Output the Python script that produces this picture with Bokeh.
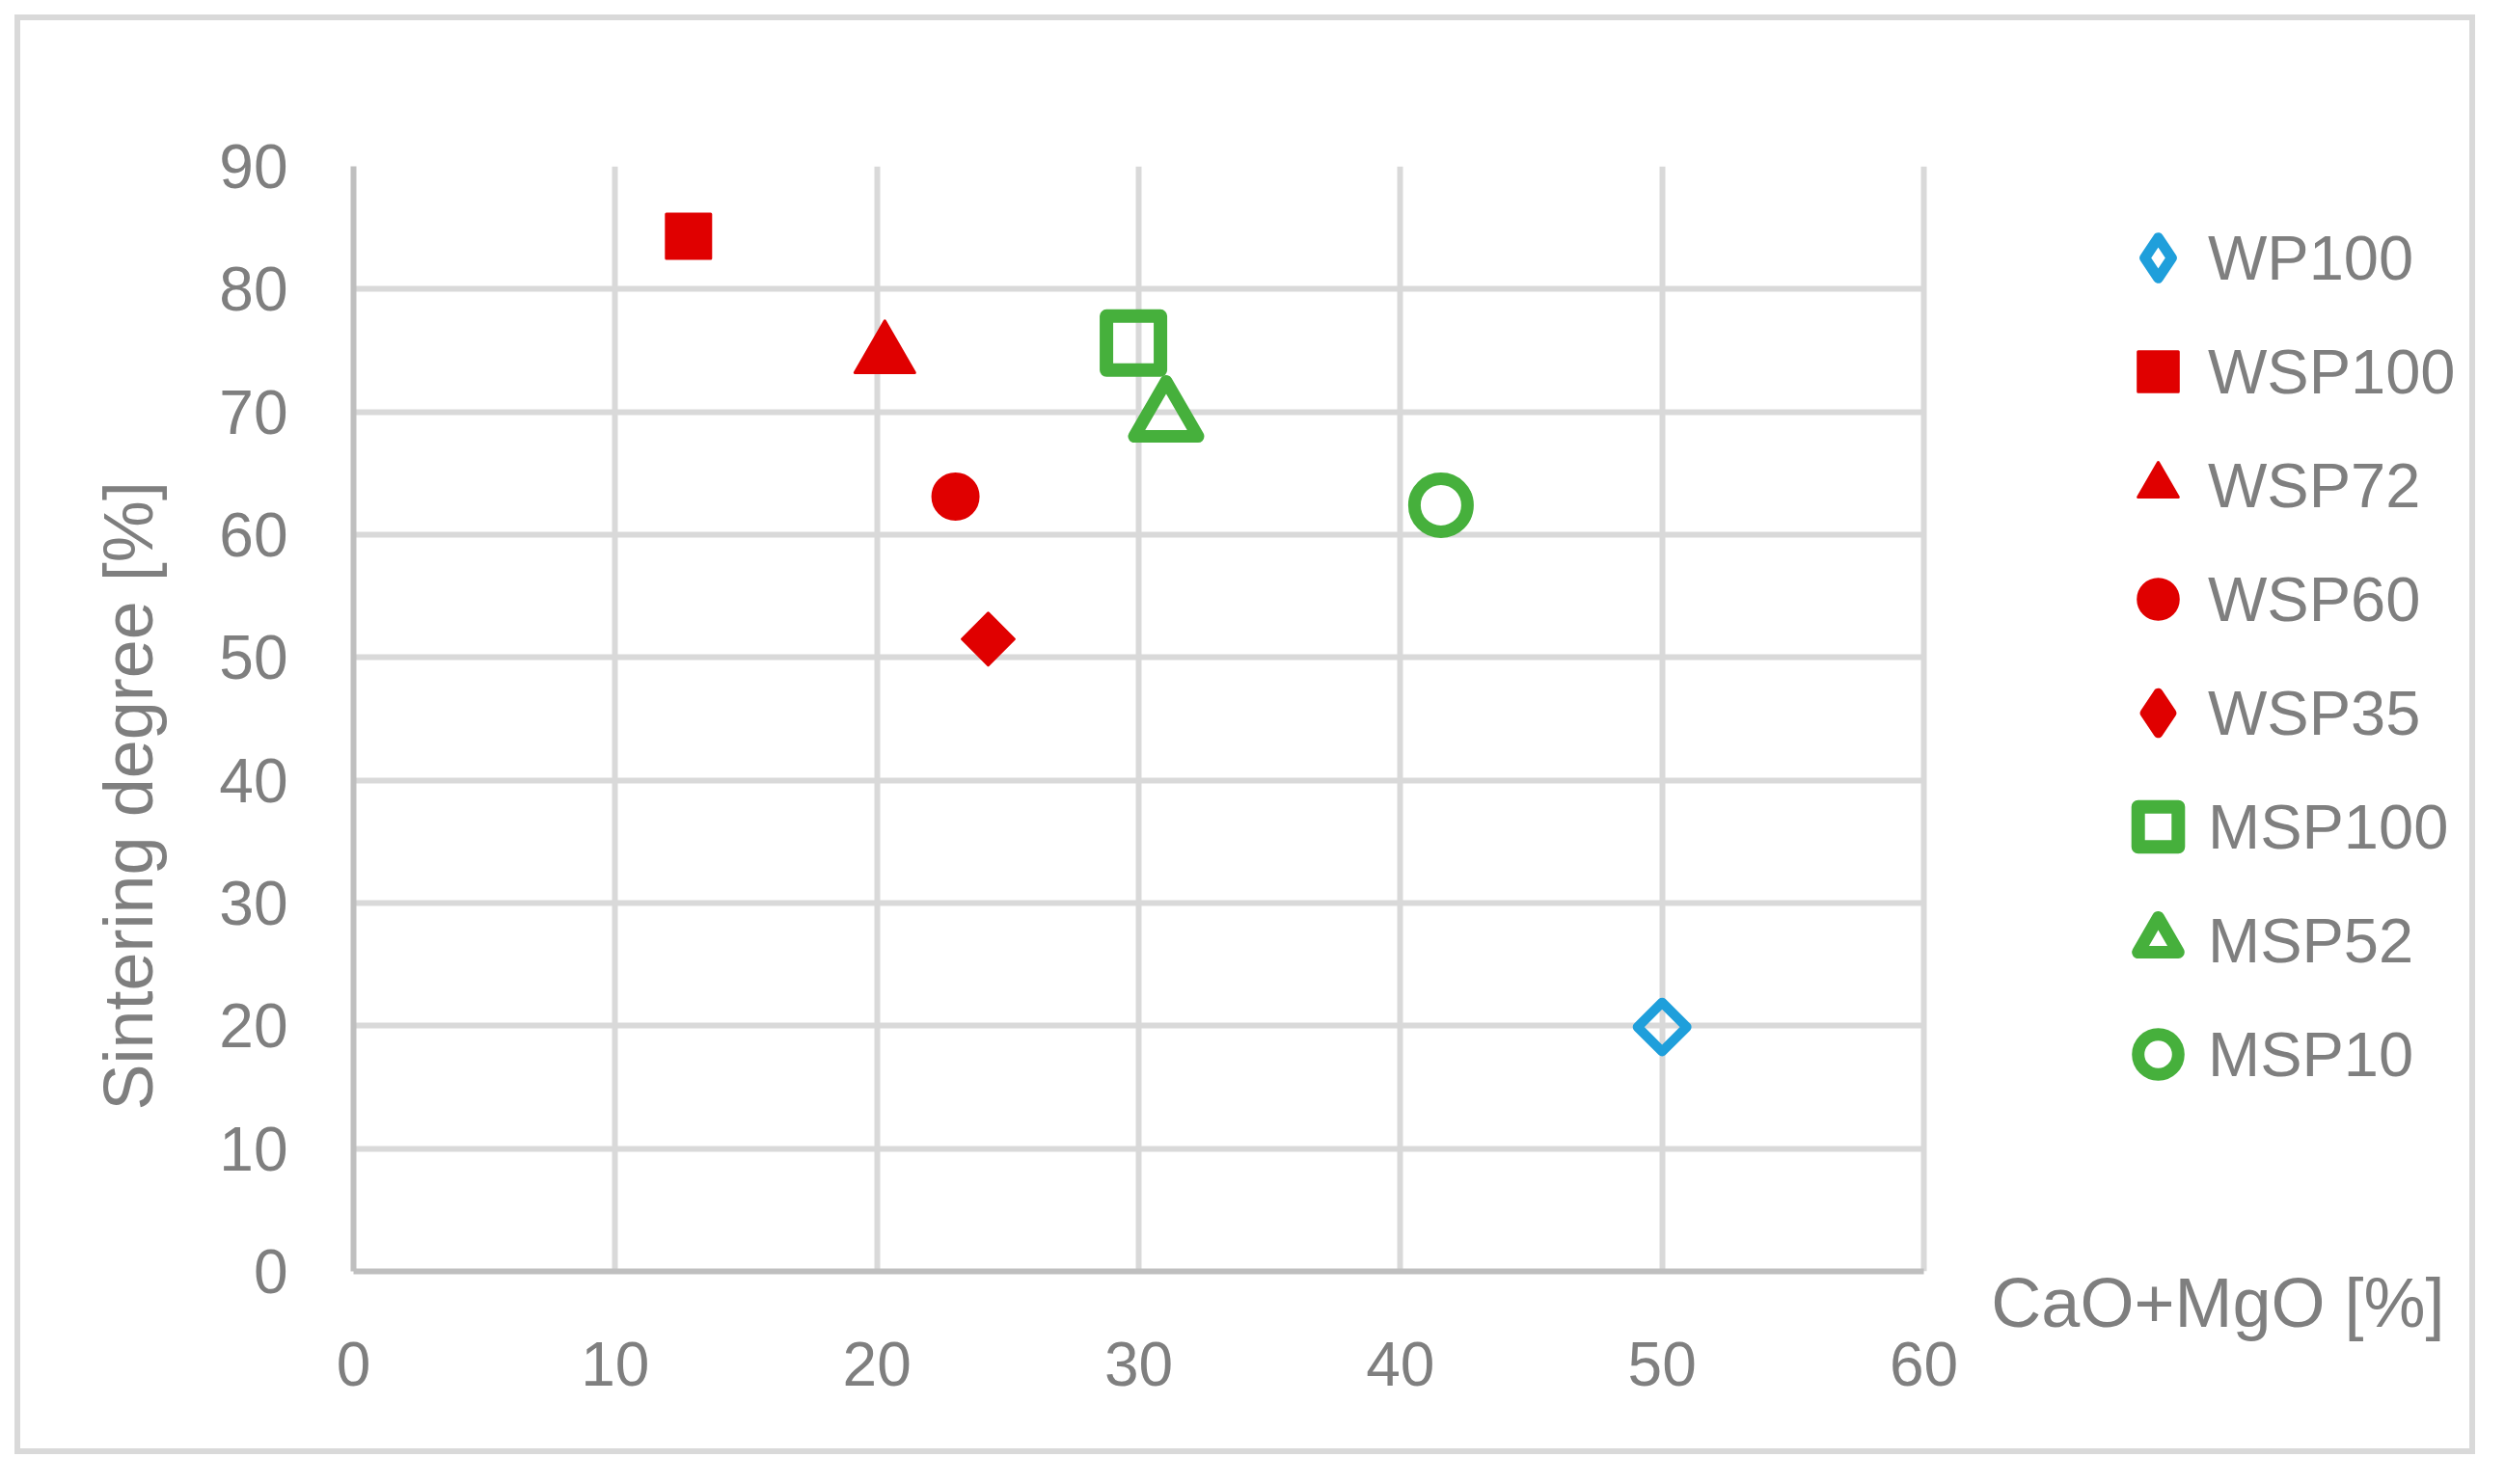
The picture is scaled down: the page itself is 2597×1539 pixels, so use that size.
import math
from bokeh.plotting import figure
from bokeh.models import (ColumnDataSource, Legend, LegendItem, Label, Title, FixedTicker,
                          Range1d, BoxAnnotation)
from bokeh.embed import file_html
from bokeh.resources import INLINE

# ---- data ----
names = ["WP100", "WSP100", "WSP72", "WSP60", "WSP35", "MSP100", "MSP52", "MSP10"]
cao_mgo = [50.0, 12.8, 20.3, 23.0, 24.25, 29.8, 31.05, 41.55]
sintering = [19.9, 84.3, 74.6, 63.1, 51.5, 75.6, 69.5, 62.4]
x_ticks = [0, 10, 20, 30, 40, 50, 60]
y_ticks = [0, 10, 20, 30, 40, 50, 60, 70, 80, 90]
x_title = "CaO+MgO [%]"
y_title = "Sintering degree [%]"
X_MAX, Y_MAX = 60, 90

RED = "#E00000"
GREEN = "#46B03C"
BLUE = "#1F9FDB"
TXT = "#7F7F7F"
FONT = "Liberation Sans"

# marker styles per series: (marker, size, angle, fill, line_color, line_width, legend_marker)
styles = [
    ("square", 36, math.pi / 4, None, BLUE, 10, "diamond"),
    ("square", 46, 0, RED, RED, 3, None),
    ("triangle", 62, 0, RED, RED, 3, None),
    ("circle", 47, 0, RED, RED, 3, None),
    ("square", 38, math.pi / 4, RED, RED, 3, "diamond"),
    ("square", 56, 0, None, GREEN, 14, None),
    ("triangle", 66, 0, None, GREEN, 13, None),
    ("circle", 55, 0, None, GREEN, 13, None),
]

# layout (pixels): plot area spans 366..1994 horizontally for 0..60; the frame is
# extended to the right so that the legend can live inside it.
W, H = 2581, 1523
PLOT_L, PLOT_R, FRAME_R = 366, 1994, 2556
x_end = X_MAX * (FRAME_R - PLOT_L) / (PLOT_R - PLOT_L)

p = figure(width=W, height=H, output_backend="svg", toolbar_location=None,
           x_range=Range1d(0, x_end), y_range=Range1d(0, Y_MAX),
           min_border_left=PLOT_L, min_border_right=W - FRAME_R, min_border_top=172,
           min_border_bottom=H - 1318)
p.styles = {"outline": "6px solid #D9D9D9", "outline-offset": "-21px",
            "background-color": "white"}
p.outline_line_color = None
p.background_fill_color = "white"
p.border_fill_color = None

for ax, ticks in ((p.xaxis[0], x_ticks), (p.yaxis[0], y_ticks)):
    ax.ticker = FixedTicker(ticks=ticks)
    ax.axis_line_color = "#BFBFBF"
    ax.axis_line_width = 6
    ax.major_tick_line_color = None
    ax.minor_tick_line_color = None
    ax.major_label_text_font = FONT
    ax.major_label_text_font_size = "64px"
    ax.major_label_text_color = TXT
p.xaxis.bounds = (0, X_MAX)
p.xaxis.major_label_standoff = 67
p.yaxis.major_label_standoff = 62

for g in (p.xgrid[0], p.ygrid[0]):
    g.grid_line_color = "#D9D9D9"
    g.grid_line_width = 6
p.xgrid.ticker = FixedTicker(ticks=x_ticks)
p.ygrid.ticker = FixedTicker(ticks=y_ticks)
try:
    p.ygrid[0].cross_bounds = (0, X_MAX)
except Exception:
    p.add_layout(BoxAnnotation(left=X_MAX + 0.12, fill_color="white", fill_alpha=1,
                               line_alpha=0))

items = []
for i, name in enumerate(names):
    marker, size, angle, fill, lc, lw, leg_marker = styles[i]
    src = ColumnDataSource(dict(x=[cao_mgo[i]], y=[sintering[i]]))
    kw = dict(fill_color=fill if fill else "white",
              fill_alpha=1.0 if fill else 0.0,
              line_color=lc, line_join="round")
    r = p.scatter("x", "y", source=src, marker=marker, size=size, angle=angle,
                  line_width=lw, **kw)
    if leg_marker:
        # legend swatch drawn as an upright diamond (legend ignores marker angle)
        leg_src = ColumnDataSource(dict(x=[float("nan")], y=[float("nan")]))
        r_leg = p.scatter("x", "y", source=leg_src, marker=leg_marker, size=size,
                          line_width=11 if fill is None else 10, **kw)
        items.append(LegendItem(label=name, renderers=[r_leg]))
    else:
        items.append(LegendItem(label=name, renderers=[r]))

legend = Legend(items=items, location=(2185 - PLOT_L, 173),
                glyph_width=104, glyph_height=104, label_height=104,
                label_standoff=0, spacing=14, padding=0, margin=0,
                border_line_color=None, background_fill_alpha=0,
                label_text_font=FONT, label_text_font_size="65px",
                label_text_color=TXT)
p.add_layout(legend, "center")

p.add_layout(Label(x=X_MAX, y=0, x_offset=540, y_offset=-32, text=x_title,
                   text_align="right", text_baseline="middle",
                   text_font=FONT, text_font_size="72px", text_color=TXT), "above")
p.add_layout(Title(text=y_title, align="left", offset=167, vertical_align="middle",
                   standoff=102, text_font=FONT, text_font_size="72px",
                   text_color=TXT, text_font_style="normal"), "left")

open("out.html", "w").write(file_html(p, INLINE))
